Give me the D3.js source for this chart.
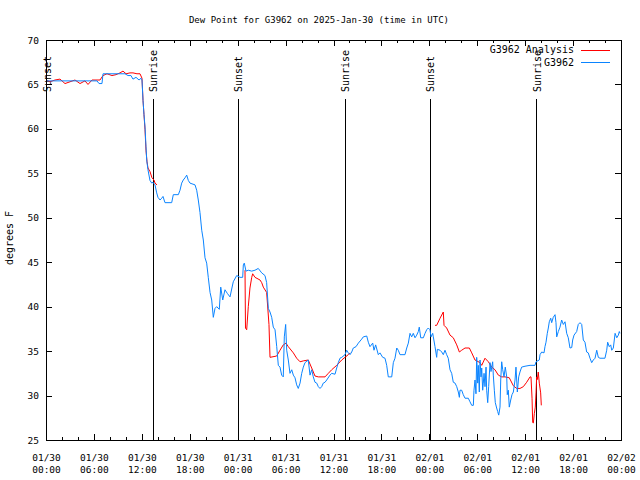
<!DOCTYPE html>
<html>
<head>
<meta charset="utf-8">
<script src="https://cdn.jsdelivr.net/npm/d3@7"></script>
<style>
  body { margin: 0; background: #fff; }
  svg { display: block; }
  text { font-family: "DejaVu Sans Mono", "Liberation Mono", monospace; font-size: 9px; fill: #000; }
</style>
</head>
<body>
<svg id="chart" width="640" height="480"></svg>
<script>
// ---------- DATA (hours after 2025-01-30 00:00 UTC) ----------
const startUTC = Date.UTC(2025, 0, 30, 0, 0);
const endUTC = Date.UTC(2025, 1, 2, 0, 0);

const stationHours = [0,6.39,6.64,7.01,7.14,9.89,10.27,10.64,10.89,11.27,11.65,11.9,12.02,12.15,12.27,12.4,12.52,12.61,12.77,13.02,13.24,13.4,13.65,13.86,14.02,14.28,14.49,14.65,14.9,15.74,15.94,16.57,16.78,16.99,17.19,17.41,17.62,17.82,18.03,18.66,18.87,19.07,19.28,19.5,19.7,19.91,20.12,20.32,20.54,20.75,20.95,21.16,21.37,21.7,21.88,22.13,22.41,22.7,23.04,23.45,23.88,24.29,24.63,24.71,24.83,25.04,25.33,25.76,26.17,26.58,27.01,27.42,27.63,27.84,28.05,28.26,28.46,28.68,28.89,29.09,29.3,29.51,29.71,29.84,30.01,30.14,30.34,30.55,30.77,30.97,31.18,31.39,31.59,31.81,32.02,32.22,32.43,32.84,33.06,33.27,33.47,33.68,33.9,34.1,34.31,34.52,34.72,34.94,35.15,35.56,35.77,36.19,36.4,36.6,36.81,37.03,37.44,37.65,37.85,38.07,38.28,38.48,38.82,39.11,39.53,39.73,40.16,40.36,40.57,40.91,41.07,41.28,41.61,41.82,42.16,42.45,42.66,42.86,43.29,43.49,43.7,43.92,44.11,44.33,44.95,45.17,45.37,45.58,45.79,45.99,46.21,46.42,46.62,46.74,46.92,47.25,47.46,47.67,47.87,48.08,48.21,48.42,48.5,48.71,48.92,49.0,49.34,49.55,49.75,49.96,50.17,50.37,50.59,50.8,51.0,51.22,51.43,51.63,51.76,51.84,52.05,52.25,52.47,52.88,53.09,53.31,53.51,53.59,53.72,53.84,53.93,54.06,54.13,54.26,54.35,54.47,54.56,54.68,54.76,54.85,54.97,55.1,55.18,55.31,55.43,55.6,55.72,55.93,56.01,56.14,56.26,56.43,56.56,56.69,56.85,56.94,57.06,57.19,57.35,57.51,57.69,57.76,57.89,58.01,58.19,58.35,58.52,58.73,58.85,58.94,59.02,59.19,59.35,59.56,59.98,60.61,61.23,61.36,61.77,61.86,62.07,62.36,62.48,62.61,62.77,62.9,63.02,63.2,63.32,63.52,63.74,63.86,63.95,64.15,64.36,64.57,64.78,64.99,65.2,65.4,65.61,65.83,65.95,66.12,66.45,66.65,66.87,67.08,67.28,67.49,67.7,67.9,68.12,68.33,68.53,68.75,68.96,69.16,69.37,69.99,70.21,70.33,70.53,70.71,70.84,71.04,71.26,71.47,71.67,71.79,71.87];
const stationDew = [65.4,65.4,65.1,65.1,66.2,66.2,66.0,66.0,65.6,65.8,65.5,65.7,65.5,63.2,61.6,60.2,58.0,56.5,55.4,54.2,53.9,54.0,53.7,52.8,52.3,52.0,52.2,52.4,51.7,51.7,52.6,52.6,53.1,53.9,54.25,54.5,54.8,54.2,53.9,53.7,53.1,52.0,50.6,48.6,47.5,45.5,44.9,43.3,41.6,40.75,38.8,39.8,40.0,39.7,42.2,40.75,41.9,41.5,41.1,42.8,43.5,43.3,43.3,44.7,44.9,44.0,44.1,44.0,44.1,44.3,43.8,43.5,42.7,39.8,39.4,38.8,37.7,37.4,35.5,33.4,33.2,32.3,32.1,36.6,38.0,35.1,34.0,32.5,32.9,32.3,32.0,31.2,30.8,31.4,32.5,33.2,33.7,34.0,32.3,32.9,32.1,31.5,31.4,31.0,30.8,31.0,31.4,31.5,31.75,32.3,32.5,32.4,33.1,33.7,34.2,34.3,34.6,35.1,34.8,34.6,34.9,35.35,35.5,35.9,36.35,36.6,36.7,36.0,35.5,35.9,35.1,35.7,34.6,34.8,34.3,34.2,33.4,32.1,32.1,33.7,34.2,35.35,35.1,34.6,34.6,35.35,35.9,37.0,36.6,37.0,36.5,36.8,37.2,37.7,36.5,36.5,37.0,37.4,37.6,37.4,36.6,37.0,36.6,35.5,34.3,35.2,35.1,34.9,34.6,35.1,34.6,34.2,32.9,32.5,31.5,31.4,31.0,30.4,29.8,30.6,30.6,30.1,29.7,29.7,29.3,28.9,28.9,30.6,31.75,30.2,34.3,31.4,33.4,30.4,34.0,32.1,33.1,30.6,31.4,32.5,31.0,33.2,30.6,29.2,31.0,33.7,32.7,33.8,32.3,30.6,29.2,28.6,28.2,27.8,28.7,31.75,33.8,32.9,32.1,33.2,32.1,30.1,30.6,28.7,29.5,30.1,30.4,31.75,33.2,31.75,30.4,32.1,32.65,33.2,33.3,33.4,33.4,33.8,34.0,34.6,34.9,34.8,35.5,36.0,37.0,37.6,38.3,38.7,38.2,38.8,39.1,38.2,36.6,37.2,37.7,38.5,38.0,38.3,37.0,36.5,35.35,35.4,36.25,36.8,37.2,38.0,38.2,38.0,36.25,36.0,34.9,34.8,34.2,33.7,34.0,34.2,35.1,34.3,34.2,34.2,35.1,36.0,35.5,35.7,35.1,35.35,37.0,36.5,36.8,37.2,37.0];

// null marks a gap in the analysis series
const analysisHours = [0,0.5,1.13,1.75,2.38,3.01,3.63,4.26,4.88,5.26,5.76,6.26,6.76,7.14,7.64,8.26,8.77,9.27,9.64,10.02,10.52,10.89,11.39,11.77,12.02,12.15,12.27,12.4,12.52,12.65,12.77,13.02,13.27,13.52,13.65,13.9,19.0,24.92,24.98,25.13,25.33,25.54,25.76,25.88,26.17,26.8,27.01,27.21,27.63,27.92,28.05,28.89,29.3,29.71,30.05,30.34,30.97,31.39,31.81,32.22,32.84,33.27,33.68,34.1,34.94,35.35,35.77,36.4,37.03,37.44,37.85,38.07,43.0,48.71,48.92,49.34,49.75,49.84,50.17,50.59,51.0,51.43,51.76,52.05,52.47,53.01,53.31,53.72,54.35,54.56,54.97,55.39,55.81,56.22,56.64,57.06,57.48,58.01,58.52,58.94,59.35,59.77,60.19,60.61,60.73,60.86,60.94,61.02,61.15,61.27,61.36,61.44,61.52,61.64,61.77,61.94,62.02];
const analysisDew = [65.5,65.3,65.5,65.6,65.1,65.3,65.5,65.1,65.4,65.0,65.5,65.5,65.5,66.0,66.2,66.0,66.1,66.3,66.5,66.2,66.3,66.3,66.2,66.2,65.7,63.2,61.6,59.9,57.6,56.3,55.6,55.2,54.5,54.25,53.9,53.7,null,44.1,37.6,37.4,40.0,42.1,43.3,43.7,43.3,43.0,42.7,42.2,41.6,38.0,34.3,34.45,35.1,35.7,35.9,35.5,34.8,34.2,33.8,33.9,34.0,33.1,32.2,32.1,32.1,32.5,32.9,33.4,34.0,34.3,34.6,34.8,null,37.9,37.9,38.7,39.4,37.9,37.6,36.8,36.5,35.7,34.9,35.1,35.35,35.35,34.8,34.0,33.7,33.4,34.2,33.8,33.2,32.9,32.3,32.1,32.1,32.0,31.1,30.8,30.8,31.0,31.5,32.1,32.1,29.7,27.0,26.9,28.0,28.7,30.3,32.1,31.8,32.65,31.4,30.3,28.9];

const sunEventHours = [0.08, 13.44, 24.08, 37.48, 48.12, 61.48];
const sunEventLabels = ["Sunset", "Sunrise", "Sunset", "Sunrise", "Sunset", "Sunrise"];

const yTickValues = [25, 30, 35, 40, 45, 50, 55, 60, 65, 70];
const seriesNames = ["G3962 Analysis", "G3962"];
const seriesColors = ["#ff0000", "#0a84ff"];
const titleText = "Dew Point for G3962 on 2025-Jan-30 (time in UTC)";
const yLabelText = "degrees F";

// ---------- CHART ----------
const toDate = h => new Date(startUTC + h * 3600000);
const svg = d3.select("#chart");
const L = 46, R = 621, T = 40, B = 440;

const x = d3.scaleUtc().domain([new Date(startUTC), new Date(endUTC)]).range([L, R]);
const y = d3.scaleLinear().domain([25, 70]).range([B, T]);

// sunrise / sunset markers
const sun = svg.append("g");
sunEventHours.forEach((h, i) => {
  const sx = x(toDate(h));
  sun.append("line").attr("x1", sx).attr("x2", sx).attr("y1", 99).attr("y2", B)
    .attr("stroke", "#000").attr("stroke-width", 1).attr("shape-rendering", "crispEdges");
  sun.append("text").attr("transform", `translate(${sx + 1},92) rotate(-90)`)
    .attr("text-anchor", "start").attr("dominant-baseline", "middle")
    .style("font-size", "10px").text(sunEventLabels[i]);
});

// series
const analysisData = analysisHours.map((h, i) => ({ t: toDate(h), v: analysisDew[i] }));
const stationData = stationHours.map((h, i) => ({ t: toDate(h), v: stationDew[i] }));
const line = d3.line().defined(d => d.v !== null).x(d => x(d.t)).y(d => y(d.v));

svg.append("path").datum(analysisData).attr("d", line)
  .attr("fill", "none").attr("stroke", seriesColors[0]).attr("stroke-width", 1);
svg.append("path").datum(stationData).attr("d", line)
  .attr("fill", "none").attr("stroke", seriesColors[1]).attr("stroke-width", 1);

// axes
const fmtDay = d3.utcFormat("%m/%d"), fmtTime = d3.utcFormat("%H:%M");
const gx = svg.append("g").attr("transform", `translate(0,${B})`)
  .call(d3.axisBottom(x).ticks(d3.utcHour.every(6)).tickSize(-6).tickPadding(12).tickFormat(fmtDay));
gx.selectAll(".tick text").each(function(d) {
  const t = d3.select(this);
  t.text(null).attr("dy", null);
  t.append("tspan").attr("x", 0).attr("y", 21).text(fmtDay(d));
  t.append("tspan").attr("x", 0).attr("y", 33).text(fmtTime(d));
});
svg.append("g").attr("transform", `translate(0,${B})`)
  .call(d3.axisBottom(x).ticks(d3.utcHour.every(2)).tickSize(-3).tickFormat(""));
svg.append("g").attr("transform", `translate(0,${T})`)
  .call(d3.axisTop(x).ticks(d3.utcHour.every(6)).tickSize(-6).tickFormat(""));
svg.append("g").attr("transform", `translate(0,${T})`)
  .call(d3.axisTop(x).ticks(d3.utcHour.every(2)).tickSize(-3).tickFormat(""));
svg.append("g").attr("transform", `translate(${L},0)`)
  .call(d3.axisLeft(y).tickValues(yTickValues).tickSize(-6).tickPadding(7));
svg.append("g").attr("transform", `translate(${R},0)`)
  .call(d3.axisRight(y).tickValues(yTickValues).tickSize(-6).tickFormat(""));

svg.selectAll(".domain").remove();
svg.selectAll(".tick line").attr("stroke", "#000").attr("shape-rendering", "crispEdges");
svg.selectAll(".tick text").style("font-family", "DejaVu Sans Mono").style("font-size", "9.5px").attr("fill", "#000");

svg.append("rect").attr("x", L).attr("y", T).attr("width", R - L).attr("height", B - T)
  .attr("fill", "none").attr("stroke", "#000").attr("shape-rendering", "crispEdges");

// title & y label
svg.append("text").attr("x", 319).attr("y", 23).attr("text-anchor", "middle").text(titleText);
svg.append("text").attr("transform", "translate(10,238) rotate(-90)")
  .attr("text-anchor", "middle").attr("dominant-baseline", "middle")
  .style("font-size", "10px").text(yLabelText);

// legend
seriesNames.forEach((name, i) => {
  const ly = 50 + i * 12.5;
  svg.append("text").attr("x", 574).attr("y", ly).attr("text-anchor", "end")
    .attr("dominant-baseline", "middle").style("font-size", "10px").text(name);
  svg.append("line").attr("x1", 581).attr("x2", 610).attr("y1", ly).attr("y2", ly)
    .attr("stroke", seriesColors[i]).attr("stroke-width", 1).attr("shape-rendering", "crispEdges");
});
</script>
</body>
</html>
